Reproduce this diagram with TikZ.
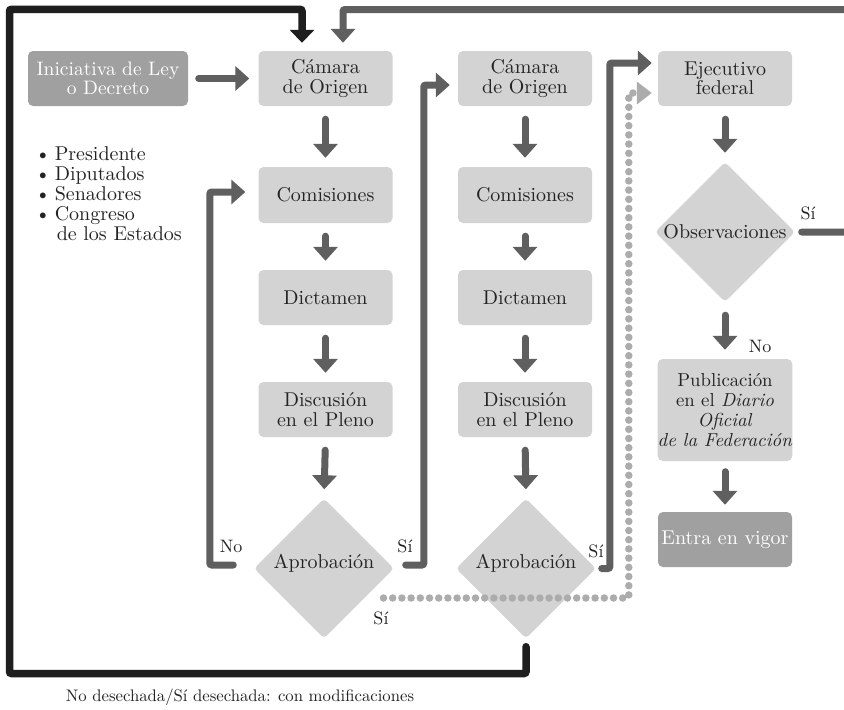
\documentclass[tikz,border=0pt]{standalone}
\usepackage{fontspec}
\setmainfont{lmroman10-regular.otf}[ItalicFont=lmroman10-italic.otf,
  BoldFont=lmroman10-bold.otf]
\usetikzlibrary{shapes.geometric,arrows.meta,calc}

\definecolor{boxfill}{RGB}{211,211,211}
\definecolor{darkfill}{RGB}{160,160,160}
\definecolor{flowgray}{RGB}{95,95,95}
\definecolor{loopblack}{RGB}{30,30,30}
\definecolor{dotgray}{RGB}{172,172,172}
\definecolor{ink}{RGB}{35,35,35}

\begin{document}
\begin{tikzpicture}[x=1pt,y=-1pt,
  every node/.style={text=ink},
  box/.style={fill=boxfill, rounded corners=5pt, minimum width=134pt,
    minimum height=55pt, align=center, inner sep=0pt,
    font=\fontsize{20}{19.5}\selectfont},
  darkbox/.style={box, fill=darkfill, text=white},
  decision/.style={diamond, fill=boxfill, rounded corners=4pt, aspect=1,
    minimum width=140pt, minimum height=140pt, inner sep=0pt},
  dlabel/.style={font=\fontsize{20}{20}\selectfont, text=ink, inner sep=0pt},
  lbl/.style={font=\fontsize{18}{18}\selectfont, inner sep=0pt},
  flow/.style={draw=flowgray, line width=7pt, line cap=round,
    -{Triangle[width=24pt,length=14pt]}},
  downflow/.style={flow, shorten <=13pt, shorten >=9pt},
  backloop/.style={draw=loopblack, line width=7.5pt, line cap=round,
    rounded corners=2pt, -{Triangle[width=24pt,length=13pt]}},
  dotflow/.style={draw=dotgray, line width=7.5pt, line cap=round,
    dash pattern=on 0pt off 9.2pt, -{Triangle[width=22pt,length=15pt]}}
]
\useasboundingbox (0,0) rectangle (844,710);
\fill[white] (0,0) rectangle (844,710);
\clip (0,0) rectangle (844,710);

% first chamber
\node[darkbox, minimum width=160pt, font=\fontsize{19.5}{19.5}\selectfont] (ini)
  at (108,78.5) {Iniciativa de Ley\\o Decreto};
\node[box] (cam1) at (325.5,78.5) {Cámara\\de Origen};
\node[box, minimum height=56pt] (com1) at (325.5,195) {Comisiones};
\node[box] (dic1) at (325.5,297.5) {Dictamen};
\node[box] (dis1) at (325.5,409.5) {Discusión\\en el Pleno};
\node[decision, label={[dlabel, yshift=5pt]center:Aprobación}] (apr1) at (324,568.5) {};

% second chamber
\node[box] (cam2) at (525,78.5) {Cámara\\de Origen};
\node[box, minimum height=56pt] (com2) at (525,195) {Comisiones};
\node[box] (dic2) at (525,297.5) {Dictamen};
\node[box] (dis2) at (525,409.5) {Discusión\\en el Pleno};
\node[decision, label={[dlabel, yshift=5pt]center:Aprobación}] (apr2) at (526,568.5) {};

% executive
\node[box] (eje) at (725,78.5) {Ejecutivo\\federal};
\node[decision, label={[dlabel]center:Observaciones}] (obs) at (725,232) {};
\node[box, minimum height=102pt, font=\fontsize{18.8}{20}\selectfont] (pub) at (725,410)
  {Publicación\\en el \textit{Diario}\\\textit{Oficial}\\\textit{de la Federación}};
\node[darkbox] (ent) at (725,539.5) {Entra en vigor};

% who may propose
\node[anchor=north west, align=left, inner sep=0pt,
  font=\fontsize{20}{20.2}\selectfont] (quienes) at (35,146)
  {\textbullet\hspace{4pt}Presidente\\
   \textbullet\hspace{4pt}Diputados\\
   \textbullet\hspace{4pt}Senadores\\
   \textbullet\hspace{4pt}Congreso\\
   \hphantom{\textbullet}\hspace{6pt}de los Estados};

% straight flow
\draw[flow, shorten <=10.5pt, shorten >=9pt] (ini.east) -- (cam1.west);
\draw[downflow] (cam1.south) -- (com1.north);
\draw[downflow] (com1.south) -- (dic1.north);
\draw[downflow] (dic1.south) -- (dis1.north);
\draw[downflow] (dis1.south) -- (apr1.north);
\draw[downflow] (cam2.south) -- (com2.north);
\draw[downflow] (com2.south) -- (dic2.north);
\draw[downflow] (dic2.south) -- (dis2.north);
\draw[downflow] (dis2.south) -- (apr2.north);
\draw[downflow] (eje.south) -- (obs.north);
\draw[downflow] (obs.south) -- (pub.north);
\draw[downflow, shorten <=10.5pt, shorten >=7pt] (pub.south) -- (ent.north);

% decisions of the first chamber
\draw[flow, rounded corners=2pt] ($(apr1.west)+(-20.5,-3.5)$)
  -| ($(com1.west)+(-48.5,-3)$) -- ($(com1.west)+(-13,-3)$);
\draw[flow, rounded corners=2pt] ($(apr1.east)+(11.5,-3.5)$)
  -| ($(cam2.west)+(-34,6.5)$) -- ($(cam2.west)+(-8,6.5)$);

% decisions of the second chamber
\draw[flow, rounded corners=2pt] ($(apr2.east)+(5.5,0)$)
  -| ($(eje.west)+(-48,-15.5)$) -- ($(eje.west)+(-6,-15.5)$);
\coordinate (dotstart) at (383.5,598);
\draw[dotflow] (dotstart) -| ($(eje.west)+(-29,14.5)$) -- ($(eje.west)+(-6,14.5)$);
\draw[backloop, shorten <=8pt] (apr2.south) |- (9.5,673.5)
  |- ($(cam1.north)+(-23.5,-41.5)$) -- ($(cam1.north)+(-23.5,-8)$);

% observations sent back
\draw[flow, shorten <=6.5pt, rounded corners=2pt] (obs.east) -- (880,232) -- (880,9.5)
  -| ($(cam1.north)+(17.5,-8)$);

% labels
\node[lbl] (noA) at (231,546) {No};
\node[lbl] (siA) at (405,546) {Sí};
\node[lbl] (siB) at (596,551) {Sí};
\node[lbl] (siC) at (381,618) {Sí};
\node[lbl] (siD) at (808,213) {Sí};
\node[lbl] (noB) at (760,346) {No};

\node[font=\fontsize{16.7}{16.7}\selectfont, inner sep=0pt] (nota) at (240,697)
  {No desechada/Sí desechada: con modificaciones};
\end{tikzpicture}
\end{document}
